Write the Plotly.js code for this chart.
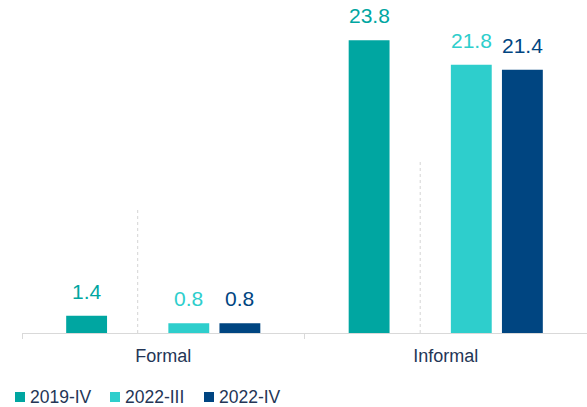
<!DOCTYPE html>
<html>
<head>
<meta charset="utf-8">
<script src="https://cdn.plot.ly/plotly-3.0.1.min.js"></script>
<style>html,body{margin:0;padding:0;background:#fff;}#chart{width:587px;height:407px;}</style>
</head>
<body>
<div id="chart"></div>
<script>
const categories = ["Formal", "Informal"];
const seriesNames = ["2019-IV", "2022-III", "2022-IV"];
const values2019IV = [1.4, 23.8];
const values2022III = [0.8, 21.8];
const values2022IV = [0.8, 21.4];
const separatorTops = [10, 14];

const colors = ["#00A6A1", "#2ECECC", "#004581"];
const seriesValues = [values2019IV, values2022III, values2022IV];
const FONT = "Liberation Sans, Arial, sans-serif";
const TEXT_COLOR = "#243656";

// layout geometry (pixels)
const W = 587, H = 407, ML = 22, MR = 0, MT = 10, MB = 74;
const PW = W - ML - MR, PH = H - MT - MB;
const px2x = p => (p - ML) / PW;
const px2y = p => (H - MB - p) / PH;
const legendSquareX = [15, 110, 204];
const legendTop = 392, legendSize = 10, legendTextGap = 3;

const bargap = 0.2766;
const nSlots = 4;
const slotOrder = [0, 2, 3]; // slot index of each series; slot 1 is a spacer
const slotW = (1 - bargap) / nSlots;
const slotCenter = s => -0.5 * (1 - bargap) + (s + 0.5) * slotW;

function barTrace(i) {
  return {
    type: "bar", x: categories, y: seriesValues[i], name: seriesNames[i],
    marker: {color: colors[i]}, hoverinfo: "x+y+name"
  };
}
const data = [
  barTrace(0),
  {type: "bar", x: categories, y: categories.map(() => 0), showlegend: false,
   marker: {color: "rgba(0,0,0,0)"}, hoverinfo: "skip"},
  barTrace(1),
  barTrace(2)
];

const annotations = [];
seriesValues.forEach((vals, i) => {
  vals.forEach((v, j) => {
    annotations.push({
      x: j + slotCenter(slotOrder[i]), y: v, xref: "x", yref: "y",
      text: v.toFixed(1), showarrow: false, yanchor: "bottom", yshift: 11,
      font: {family: FONT, size: 21, color: colors[i]}
    });
  });
});

const shapes = separatorTops.map((top, j) => ({
  type: "line", xref: "x", yref: "y",
  x0: j + slotCenter(1), x1: j + slotCenter(1), y0: 0, y1: top,
  line: {color: "#D4D4D4", width: 1, dash: "dot"}
}));

// custom legend
seriesNames.forEach((name, i) => {
  const sx = legendSquareX[i];
  shapes.push({
    type: "rect", xref: "paper", yref: "paper",
    x0: px2x(sx), x1: px2x(sx + legendSize),
    y0: px2y(legendTop + legendSize), y1: px2y(legendTop),
    fillcolor: colors[i], line: {width: 0}
  });
  annotations.push({
    xref: "paper", yref: "paper",
    x: px2x(sx + legendSize + legendTextGap), y: px2y(legendTop + legendSize / 2),
    xanchor: "left", yanchor: "middle", showarrow: false, text: name,
    font: {family: FONT, size: 17.5, color: TEXT_COLOR}
  });
});

const layout = {
  width: W, height: H,
  margin: {l: ML, r: MR, t: MT, b: MB},
  paper_bgcolor: "#fff", plot_bgcolor: "#fff",
  barmode: "group", bargap: bargap, bargroupgap: 0.2,
  font: {family: FONT, color: TEXT_COLOR, size: 16},
  xaxis: {
    type: "category", showline: true, linecolor: "#D9D9D9", linewidth: 1,
    ticks: "outside", tickson: "boundaries", ticklen: 5, tickcolor: "#D9D9D9",
    ticklabelstandoff: 6,
    showgrid: false, tickfont: {family: FONT, size: 18, color: TEXT_COLOR},
    fixedrange: true
  },
  yaxis: {range: [0, 26.26], visible: false, showgrid: false, zeroline: false, fixedrange: true},
  showlegend: false,
  annotations: annotations,
  shapes: shapes
};

Plotly.newPlot("chart", data, layout, {displayModeBar: false, staticPlot: true});
</script>
</body>
</html>
